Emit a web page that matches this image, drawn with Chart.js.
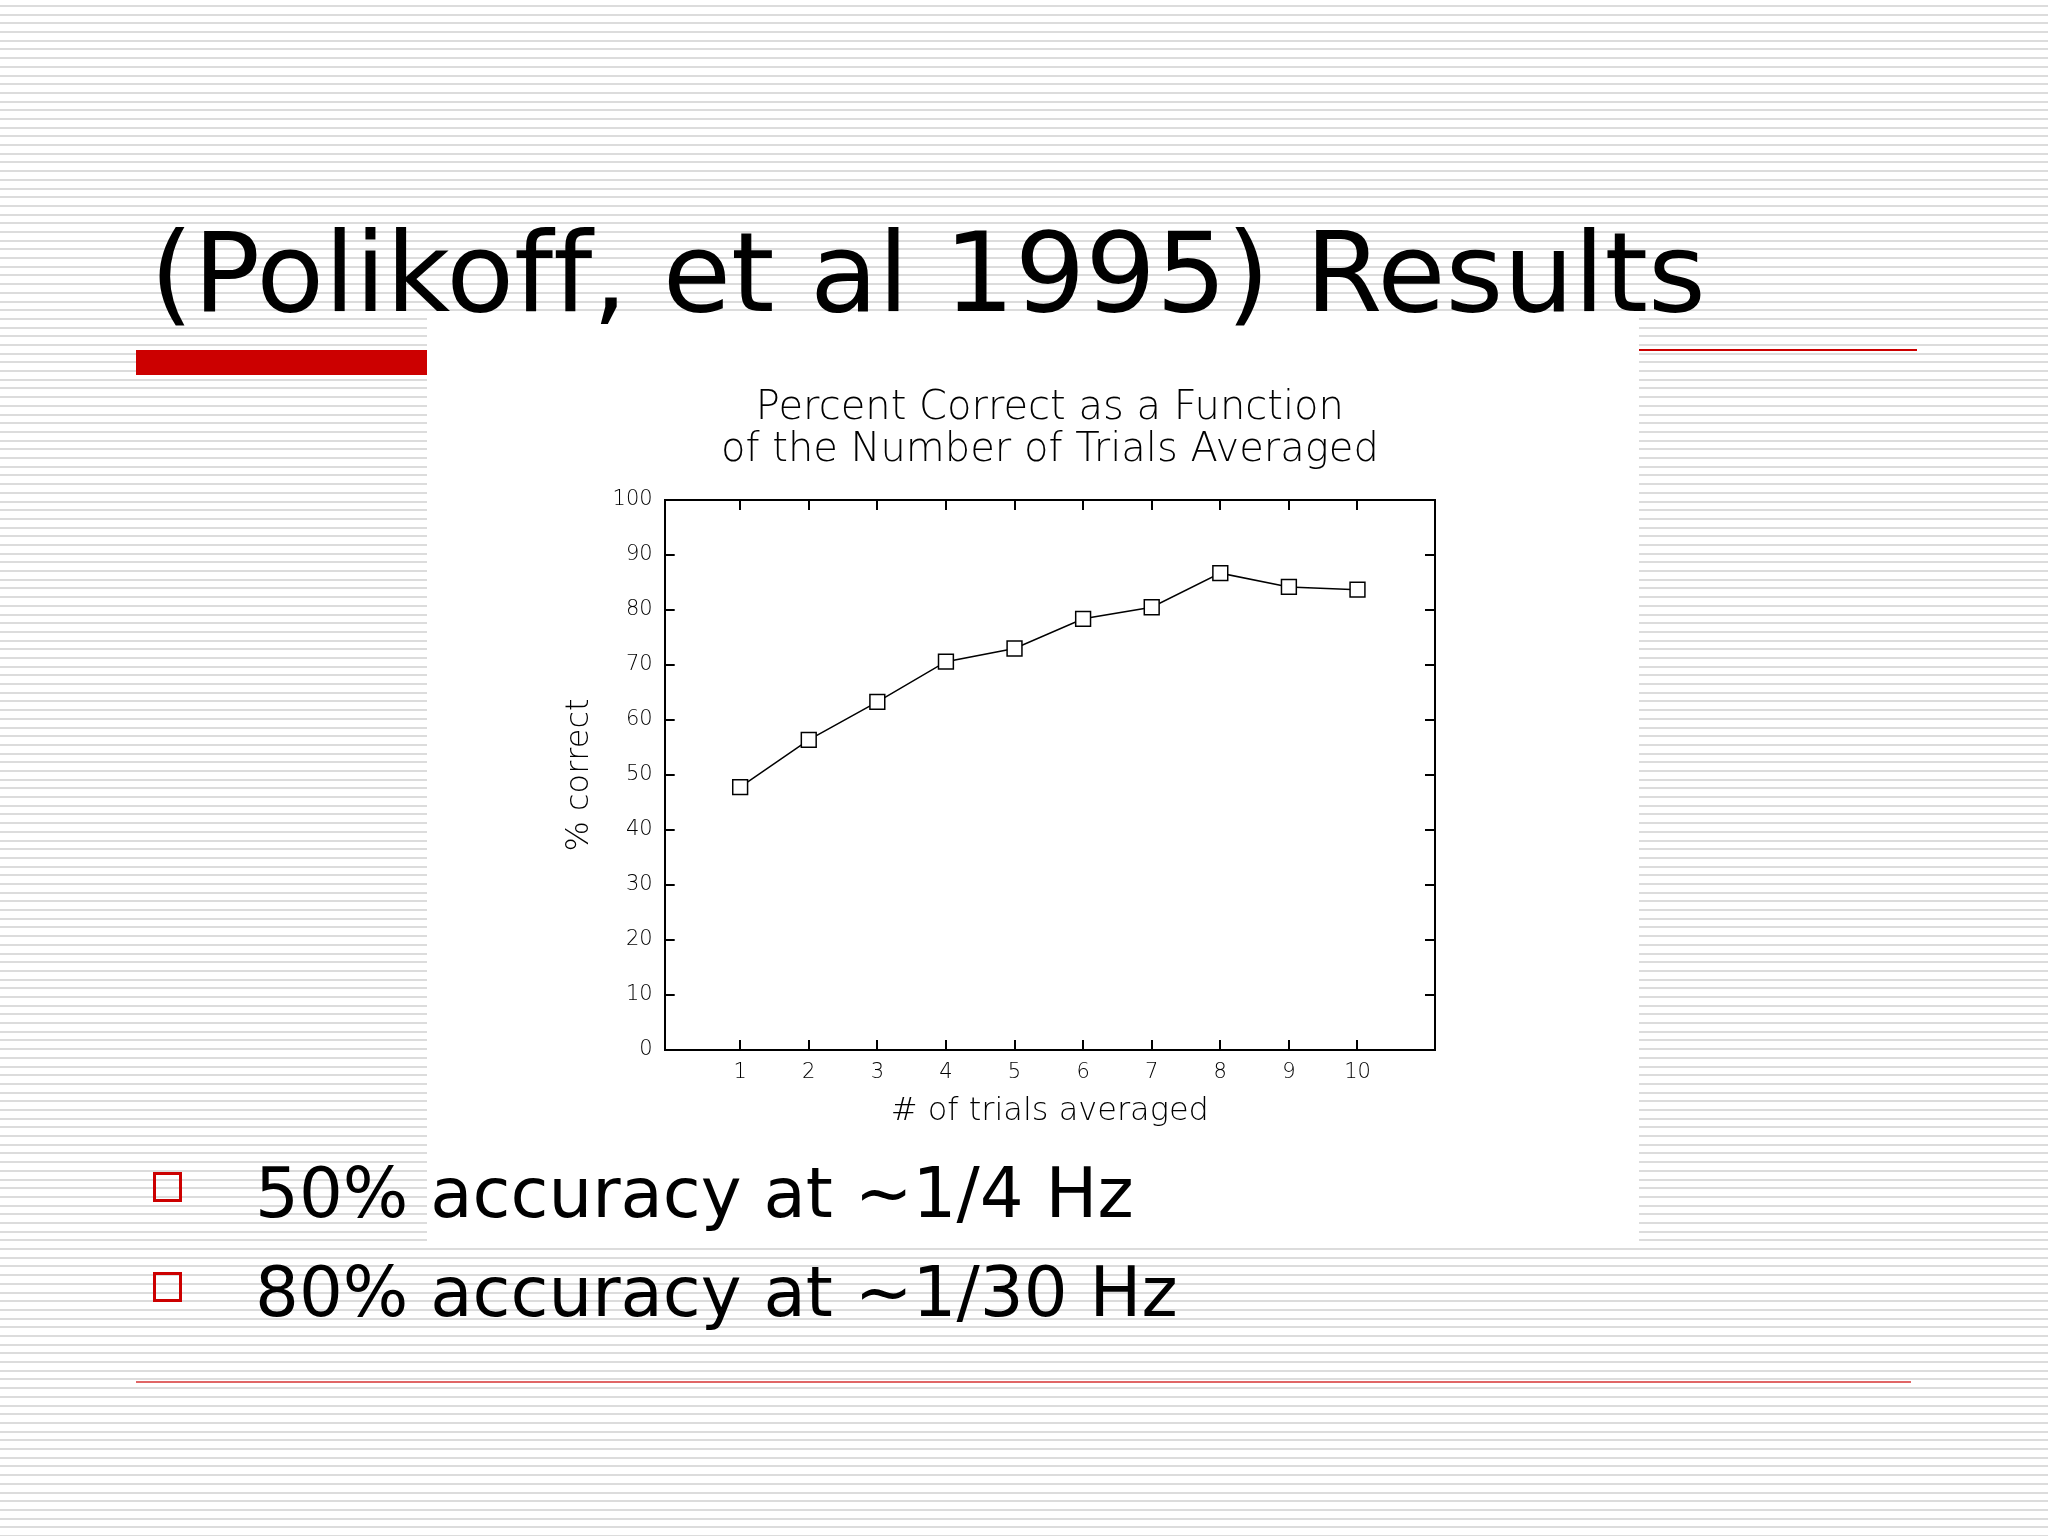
<!DOCTYPE html>
<html>
<head>
<meta charset="utf-8">
<script src="https://cdn.jsdelivr.net/npm/chart.js@4.4.1/dist/chart.umd.min.js"></script>
<style>
  html, body { margin: 0; padding: 0; }
  #slide {
    position: relative;
    width: 2048px;
    height: 1536px;
    overflow: hidden;
    background: repeating-linear-gradient(180deg,
      #ffffff 0px, #ffffff 5px,
      #dcdcdc 5px, #dcdcdc 7px,
      #ffffff 7px, #ffffff 8.693px);
    font-family: "DejaVu Sans", Verdana, sans-serif;
    font-variant-ligatures: none;
  }
  .abs { position: absolute; }
  #heading { left: 150px; top: 208px; font-size: 111px; line-height: normal; white-space: nowrap; color: #000; z-index: 3; }
  #redbar { left: 136px; top: 350px; width: 291px; height: 25px; background: #cc0000; }
  #redline { left: 1639px; top: 349px; width: 278px; height: 2px; background: #cc0000; }
  #bottomline { left: 136px; top: 1381px; width: 1775px; height: 2px; background: rgba(204, 0, 0, 0.6); }
  #panel { left: 427px; top: 313px; width: 1212px; height: 928px; background: #fff; z-index: 1; }
  .bullet { left: 153px; width: 23px; height: 24px; border: 3px solid #cc0000; z-index: 3; }
  .point { left: 255px; font-size: 69px; line-height: normal; white-space: nowrap; color: #000; z-index: 3; }
</style>
</head>
<body>
<div id="slide">
  <div id="redbar" class="abs"></div>
  <div id="redline" class="abs"></div>
  <div id="panel" class="abs"><canvas id="myChart" width="1212" height="928"></canvas></div>
  <div id="heading" class="abs">(Polikoff, et al 1995) Results</div>
  <div class="abs bullet" style="top:1172px"></div>
  <div class="abs point" style="top:1153px">50% accuracy at ~1/4 Hz</div>
  <div class="abs bullet" style="top:1272px"></div>
  <div class="abs point" style="top:1252px">80% accuracy at ~1/30 Hz</div>
  <div id="bottomline" class="abs"></div>
</div>
<script>
// data
var trials = [1, 2, 3, 4, 5, 6, 7, 8, 9, 10];
var percentCorrect = [47.8, 56.4, 63.3, 70.6, 73.0, 78.4, 80.5, 86.7, 84.2, 83.7];
var xTickValues = [1, 2, 3, 4, 5, 6, 7, 8, 9, 10];
var yTickValues = [0, 10, 20, 30, 40, 50, 60, 70, 80, 90, 100];
var chartTitle = ['Percent Correct as a Function', 'of the Number of Trials Averaged'];
var xTitle = '# of trials averaged';
var yTitle = '% correct';

var fam = '"DejaVu Sans", sans-serif';

// ticks pointing inward, like the old plot
var gridOpts = { drawOnChartArea: false, drawTicks: true, tickLength: -10, color: '#000', lineWidth: 2 };
var borderOpts = { display: true, color: '#000', width: 2 };

function setTicks(values) {
    return function (scale) {
        scale.ticks = values.map(function (v) { return { value: v }; });
    };
}

var ctx = document.getElementById('myChart').getContext('2d');

var myChart = new Chart(ctx, {
    type: 'line',
    data: {
        datasets: [{
            data: trials.map(function (t, i) { return { x: t, y: percentCorrect[i] }; }),
            borderColor: '#000',
            borderWidth: 1.5,
            pointStyle: 'rect',
            pointRadius: 10.5,
            pointBackgroundColor: '#fff',
            pointBorderColor: '#000',
            pointBorderWidth: 1.5,
            tension: 0
        }]
    },
    options: {
        responsive: false,
        animation: false,
        layout: { padding: { left: 100, right: 204, top: 0, bottom: 107 } },
        plugins: {
            legend: { display: false },
            tooltip: { enabled: false },
            title: {
                display: true,
                text: chartTitle,
                fullSize: false,
                color: '#000',
                font: { family: fam, size: 40, weight: 200, lineHeight: 1.05 },
                padding: { top: 75, bottom: 28 }
            }
        },
        scales: {
            x: {
                type: 'linear',
                position: 'bottom',
                min: -0.1,
                max: 11.13,
                afterBuildTicks: setTicks(xTickValues),
                afterFit: function (s) { s.height = 84; },
                grid: gridOpts,
                border: borderOpts,
                ticks: { color: '#000', font: { family: fam, size: 21, weight: 200 }, padding: 20, maxRotation: 0 },
                title: { display: true, text: xTitle, color: '#000', font: { family: fam, size: 32, weight: 200 }, padding: { top: 0, bottom: 3 } }
            },
            x2: {
                type: 'linear',
                position: 'top',
                min: -0.1,
                max: 11.13,
                afterBuildTicks: setTicks(xTickValues),
                afterFit: function (s) { s.height = 0; },
                grid: gridOpts,
                border: borderOpts,
                ticks: { display: false }
            },
            y: {
                type: 'linear',
                position: 'left',
                min: 0,
                max: 100,
                afterBuildTicks: setTicks(yTickValues),
                afterFit: function (s) { s.width = 137.7; },
                grid: gridOpts,
                border: borderOpts,
                ticks: { color: '#000', font: { family: fam, size: 21, weight: 200 }, padding: 22 },
                title: { display: true, text: yTitle, color: '#000', font: { family: fam, size: 32, weight: 200 }, padding: { top: 33, bottom: 0 } }
            },
            y2: {
                type: 'linear',
                position: 'right',
                min: 0,
                max: 100,
                afterBuildTicks: setTicks(yTickValues),
                afterFit: function (s) { s.width = 0; },
                grid: gridOpts,
                border: borderOpts,
                ticks: { display: false }
            }
        }
    }
});
</script>
</body>
</html>
